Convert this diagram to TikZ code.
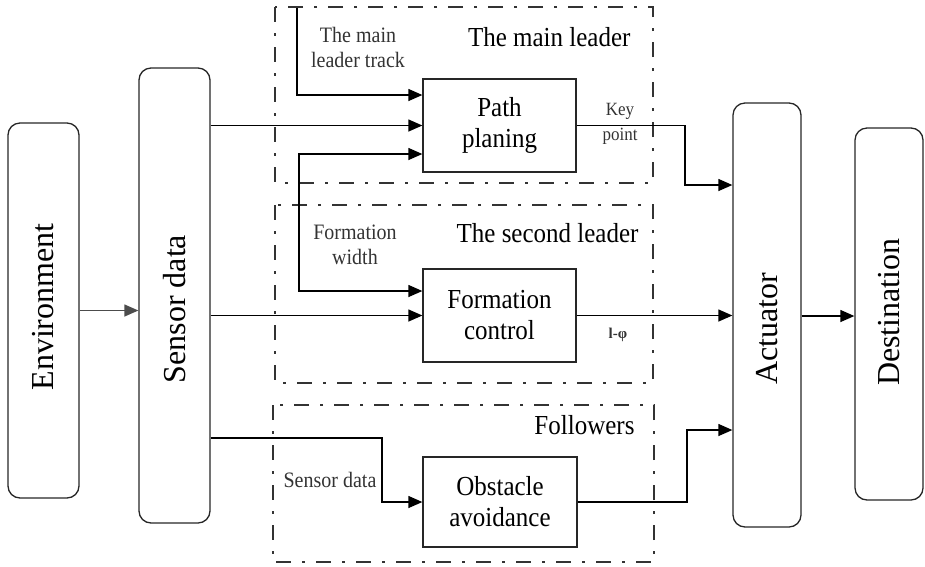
\documentclass[tikz,border=0pt]{standalone}
\usepackage{fontspec}
\setmainfont{Liberation Serif}
\usetikzlibrary{arrows.meta}
\newcommand{\ys}[1]{\scalebox{1}[1.1]{#1}}
\begin{document}
\begin{tikzpicture}[x=1pt,y=-1pt,
  rbox/.style={draw=black!85,line width=1.3pt,rounded corners=12pt,inner sep=0pt},
  pbox/.style={draw=black!85,line width=1.3pt,inner sep=0pt,align=center,font=\fontsize{25}{31}\selectfont},
  frame/.style={draw=black!80,line width=2.4pt,dash pattern=on 15pt off 11pt on 3pt off 11pt},
  arr/.style={line width=1.3pt,-{Triangle[length=14pt,width=12pt]}},
  ln/.style={line width=1.3pt},
  big/.style={font=\fontsize{32}{36}\selectfont,rotate=90},
  ttl/.style={font=\fontsize{25}{30}\selectfont,anchor=east},
  sml/.style={font=\fontsize{20}{25}\selectfont,align=center,text=black!80},
  tiny/.style={font=\fontsize{17}{20}\selectfont,align=center,text=black!80}]
\useasboundingbox (0,0) rectangle (925,566);
% frames
\draw[frame] (275,7) rectangle (653,183);
\draw[frame] (275,205) rectangle (653,383);
\draw[frame] (273,405) rectangle (654,562);
% rounded boxes
\node[rbox,minimum width=71pt,minimum height=375pt] (env) at (43.5,310.5) {};
\node[big] (envt) at (43.5,307) {Environment};
\node[rbox,minimum width=71pt,minimum height=455pt] (sens) at (174.5,295.5) {};
\node[big] (senst) at (174.5,309) {Sensor data};
\node[rbox,minimum width=68pt,minimum height=424pt] (act) at (767,315) {};
\node[big] (actt) at (767,329) {Actuator};
\node[rbox,minimum width=68pt,minimum height=372pt] (dest) at (889,314) {};
\node[big] (destt) at (889,312) {Destination};
% process boxes
\node[pbox,minimum width=153pt,minimum height=93pt] (pp) at (499.5,125.5) {\ys{Path}\\\ys{planing}};
\node[pbox,minimum width=153pt,minimum height=93pt] (fc) at (499.5,315.5) {\ys{Formation}\\\ys{control}};
\node[pbox,minimum width=154pt,minimum height=90pt] (oa) at (500,502) {\ys{Obstacle}\\\ys{avoidance}};
% titles
\node[ttl] (t1) at (634,37) {\ys{The main leader}};
\node[ttl] (t2) at (642,233) {\ys{The second leader}};
\node[ttl] (t3) at (638,425) {\ys{Followers}};
% small labels
\node[sml] (l1) at (358,47) {\ys{The main}\\\ys{leader track}};
\node[sml] (l2) at (355,245) {\ys{Formation}\\\ys{width}};
\node[sml] (l3) at (330,480) {\ys{Sensor data}};
\node[tiny] (l4) at (620,124) {\ys{Key}\\[5pt]\ys{point}};
\node[tiny,font=\bfseries\fontsize{15}{18}\selectfont] (l5) at (618,335) {l-φ};
% coordinates
\coordinate (trk) at (297,8);
\coordinate (fbk1) at (299,154);
\coordinate (fbk2) at (299,291);
\coordinate (sb) at (382,438);
\coordinate (kp) at (685,125.5);
\coordinate (ob) at (687,502);
% connectors
\draw[arr,draw=black!70] (env.east) -- (env.east -| sens.west);
\draw[arr] (sens.east |- pp.west) -- (pp.west);
\draw[arr] (sens.east |- fc.west) -- (fc.west);
\draw[arr] (sens.east |- sb) -- (sb) |- (oa.west);
\draw[arr] (trk) |- (pp.west |- 0,95);
\draw[ln,{Triangle[length=14pt,width=12pt]}-{Triangle[length=14pt,width=12pt]}] (pp.west |- fbk1) -- (fbk1) -- (fbk2) -- (fc.west |- fbk2);
\draw[arr] (pp.east) -- (kp) |- (act.west |- 0,185);
\draw[arr] (fc.east) -- (fc.east -| act.west);
\draw[arr] (oa.east) -- (ob) |- (act.west |- 0,430);
\draw[arr] (act.east |- 0,316) -- (dest.west |- 0,316);
\end{tikzpicture}
\end{document}
